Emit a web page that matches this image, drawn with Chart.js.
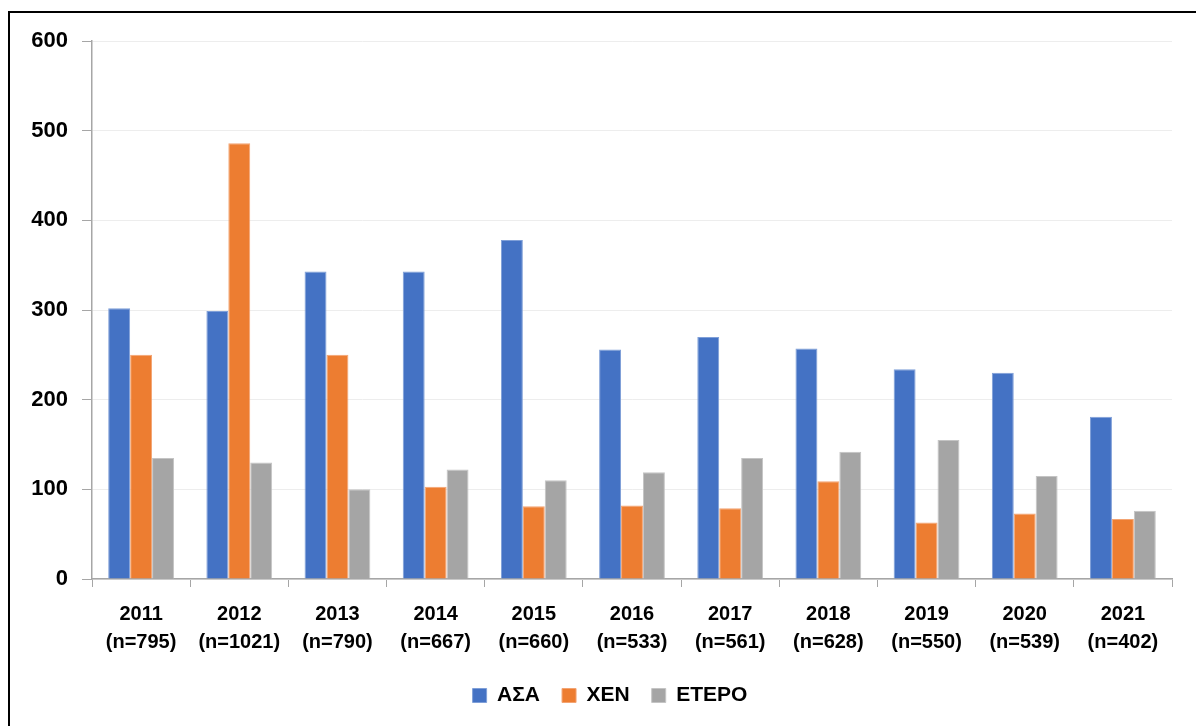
<!DOCTYPE html>
<html>
<head>
<meta charset="utf-8">
<script src="https://cdn.jsdelivr.net/npm/chart.js@4"></script>
<style>
  html,body{margin:0;padding:0;background:#fff;overflow:hidden;}
  #frame{position:absolute;left:8px;top:11px;width:1400px;height:900px;border-left:2px solid #000;border-top:2px solid #000;}
  #wrap{position:absolute;left:0;top:0;width:1196px;height:726px;}
</style>
</head>
<body>
<div id="frame"></div>
<div id="wrap"><canvas id="c" width="1196" height="726"></canvas></div>
<script>
let years = ['2011','2012','2013','2014','2015','2016','2017','2018','2019','2020','2021'];
let counts = ['795','1021','790','667','660','533','561','628','550','539','402'];
let asa   = [302,299,343,343,378,256,270,257,234,230,181];
let xen   = [250,486,250,103, 81, 82, 79,109, 63, 73, 67];
let etero = [135,130,100,122,110,119,135,142,155,115, 76];
let yTicks = [0,100,200,300,400,500,600];

let labels = years.map((y,i)=>[y,'(n='+counts[i]+')']);
let font = 'Liberation Sans, Arial, sans-serif';

function ds(label,data,color,edge){
  return {label, data, backgroundColor:color, borderColor:edge, borderWidth:1,
    barPercentage:1, categoryPercentage:0.67};
}

// legend sits centred under the whole frame, not the canvas minus padding
let shiftLegend = {id:'shiftLegend', afterLayout(chart){ chart.legend.left += 24; chart.legend.right += 24; }};

new Chart(document.getElementById('c'),{
  type:'bar',
  data:{labels, datasets:[
    ds('ΑΣΑ',asa,'#4472C4','#7f9fd8'),
    ds('ΧΕΝ',xen,'#ED7D31','#f3a473'),
    ds('ΕΤΕΡΟ',etero,'#A5A5A5','#c4c4c4')
  ]},
  plugins:[shiftLegend],
  options:{
    responsive:false, animation:false,
    layout:{padding:{left:0,right:24,top:41,bottom:10}},
    plugins:{
      tooltip:{enabled:false},
      legend:{position:'bottom',
        labels:{boxWidth:14,boxHeight:14,padding:22,color:'#000',font:{family:font,size:21,weight:'bold'}}}
    },
    scales:{
      x:{
        grid:{drawOnChartArea:false,offset:true,tickLength:8,tickColor:'#a6a6a6'},
        border:{color:'#a6a6a6',width:1.5},
        ticks:{color:'#000',padding:13,maxRotation:0,font:{family:font,size:20,weight:'bold',lineHeight:1.4}},
        afterFit(s){ s.height = 84; }
      },
      y:{
        min:0,max:600,
        afterBuildTicks(s){ s.ticks = yTicks.map(v=>({value:v})); },
        grid:{color:'#ededed',tickLength:10,tickColor:'#a6a6a6'},
        border:{color:'#a6a6a6',width:1.5},
        ticks:{color:'#000',padding:14,font:{family:font,size:22,weight:'bold'}},
        afterFit(s){ s.width = 92; }
      }
    }
  }
});
</script>
</body>
</html>
